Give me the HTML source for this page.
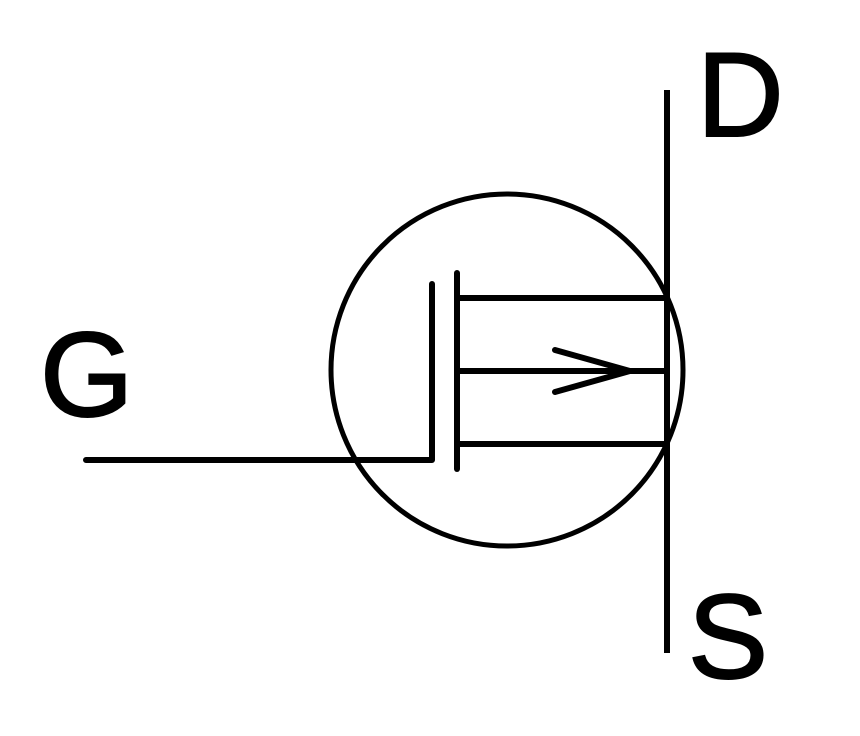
<!DOCTYPE html>
<html><head><style>body{margin:0;background:#fff}svg{display:block}</style></head><body>
<svg width="860" height="736" xmlns="http://www.w3.org/2000/svg">
<g stroke="#000" stroke-width="6" fill="none" stroke-linecap="round">
<circle cx="507" cy="370" r="176" stroke-width="5"/>
<line x1="667" y1="90" x2="667" y2="653" stroke-linecap="butt"/>
<polyline points="86,460 432,460 432,284" stroke-linejoin="round"/>
<line x1="457" y1="273" x2="457" y2="469"/>
<line x1="457" y1="298" x2="667" y2="298" stroke-linecap="butt"/>
<polyline points="457,371 667,371" stroke-linecap="butt"/>
<line x1="457" y1="444" x2="667" y2="444" stroke-linecap="butt"/>
<polyline points="555,350 630,371 555,392" stroke-linejoin="miter"/>
</g>
<g font-family="Liberation Sans, sans-serif" font-size="120" fill="#000" stroke="#000" stroke-width="2">
<text x="697" y="136">D</text>
<text x="40" y="416">G</text>
<text x="688" y="678">S</text>
</g>
</svg>
</body></html>
